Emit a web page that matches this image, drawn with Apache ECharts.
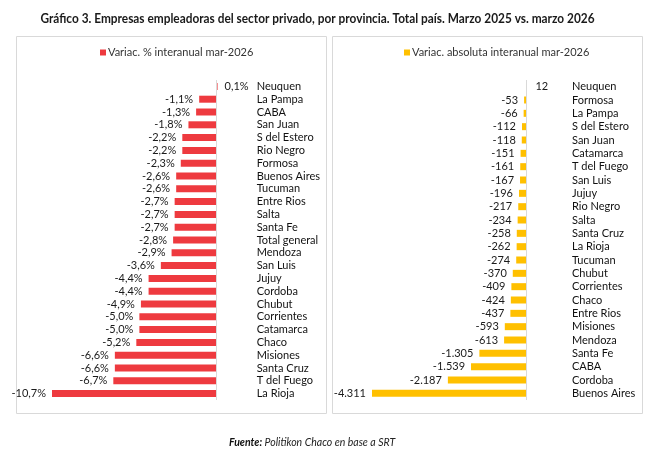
<!DOCTYPE html>
<html>
<head>
<meta charset="utf-8">
<script src="https://cdn.jsdelivr.net/npm/echarts@6/dist/echarts.min.js"></script>
<style>
  html, body { margin: 0; padding: 0; background: #fff; }
  #chart { width: 654px; height: 464px; }
</style>
</head>
<body>
<div id="chart"></div>
<script>
// variación % interanual
var pctProvincias = ['Neuquen', 'La Pampa', 'CABA', 'San Juan', 'S del Estero', 'Rio Negro', 'Formosa',
    'Buenos Aires', 'Tucuman', 'Entre Rios', 'Salta', 'Santa Fe', 'Total general', 'Mendoza', 'San Luis',
    'Jujuy', 'Cordoba', 'Chubut', 'Corrientes', 'Catamarca', 'Chaco', 'Misiones', 'Santa Cruz',
    'T del Fuego', 'La Rioja'];
var pctValores = [0.1, -1.1, -1.3, -1.8, -2.2, -2.2, -2.3, -2.6, -2.6, -2.7, -2.7, -2.7, -2.8, -2.9, -3.6,
    -4.4, -4.4, -4.9, -5.0, -5.0, -5.2, -6.6, -6.6, -6.7, -10.7];

// variación absoluta interanual
var absProvincias = ['Neuquen', 'Formosa', 'La Pampa', 'S del Estero', 'San Juan', 'Catamarca', 'T del Fuego',
    'San Luis', 'Jujuy', 'Rio Negro', 'Salta', 'Santa Cruz', 'La Rioja', 'Tucuman', 'Chubut', 'Corrientes',
    'Chaco', 'Entre Rios', 'Misiones', 'Mendoza', 'Santa Fe', 'CABA', 'Cordoba', 'Buenos Aires'];
var absValores = [12, -53, -66, -112, -118, -151, -161, -167, -196, -217, -234, -258, -262, -274, -370, -409,
    -424, -437, -593, -613, -1305, -1539, -2187, -4311];

var FONT = "Lato, 'Liberation Sans', sans-serif";
var ROJO = '#EE3A3F';
var AMARILLO = '#FFC000';
var TITULO = 'Gráfico 3. Empresas empleadoras del sector privado, por provincia. Total país. Marzo 2025 vs. marzo 2026';

function fmtPct(v) {
    return v.toFixed(1).replace('.', ',') + '%';
}
function fmtAbs(v) {
    var s = String(Math.abs(v)).replace(/\B(?=(\d{3})+(?!\d))/g, '.');
    return (v < 0 ? '-' : '') + s;
}

function barData(valores, fmt, distPos) {
    return valores.map(function(v) {
        return {
            value: v,
            label: {
                position: v < 0 ? 'left' : 'right',
                distance: v < 0 ? 6 : distPos,
                formatter: function() { return fmt(v); }
            }
        };
    });
}

function zeroLine() {
    return {
        silent: true,
        symbol: 'none',
        label: { show: false },
        lineStyle: { color: '#d9d9d9', type: 'solid', width: 1 },
        data: [{ xAxis: 0 }]
    };
}

// el título original usa una fuente condensada: se estrecha para ocupar el mismo ancho
var ctx = document.createElement('canvas').getContext('2d');
ctx.font = 'bold 13px ' + FONT;
var escalaTitulo = 554 / ctx.measureText(TITULO).width;

var chart = echarts.init(document.getElementById('chart'));

var option = {
    animation: false,
    textStyle: { fontFamily: FONT },
    graphic: [
        { type: 'text', x: 40.5, y: 12, scaleX: escalaTitulo,
          style: { text: TITULO, font: 'bold 13px ' + FONT, fill: '#1a1a1a' } },
        { type: 'rect', shape: { x: 16.5, y: 36.5, width: 310, height: 377 },
          style: { fill: 'none', stroke: '#d9d9d9', lineWidth: 1 } },
        { type: 'rect', shape: { x: 332.5, y: 36.5, width: 310, height: 377 },
          style: { fill: 'none', stroke: '#d9d9d9', lineWidth: 1 } },
        { type: 'text', x: 229, y: 437,
          style: {
              text: '{b|Fuente:} Politikon Chaco en base a SRT',
              font: 'italic 10.5px ' + FONT,
              fill: '#222',
              rich: { b: { fontWeight: 'bold', fontStyle: 'italic', fontSize: 10.5, fontFamily: FONT, fill: '#111' } }
          } }
    ],
    legend: [
        { data: ['Variac. % interanual mar-2026'], left: 100, top: 47, icon: 'rect',
          itemWidth: 6, itemHeight: 6, itemGap: 3, padding: 0,
          textStyle: { fontFamily: FONT, fontSize: 11, color: '#333', padding: [0, 0, 0, -3] } },
        { data: ['Variac. absoluta interanual mar-2026'], left: 404, top: 47, icon: 'rect',
          itemWidth: 6, itemHeight: 6, itemGap: 3, padding: 0,
          textStyle: { fontFamily: FONT, fontSize: 11, color: '#333', padding: [0, 0, 0, -3] } }
    ],
    grid: [
        { left: 52, top: 80, width: 194.7, height: 320 },
        { left: 372, top: 80, width: 190, height: 320 }
    ],
    xAxis: [
        { type: 'value', gridIndex: 0, min: -10.7, max: 2, show: false },
        { type: 'value', gridIndex: 1, min: -4311, max: 1008, show: false }
    ],
    yAxis: [
        { type: 'category', gridIndex: 0, data: pctProvincias, inverse: true, position: 'right',
          axisLine: { show: false }, axisTick: { show: false },
          axisLabel: { interval: 0, margin: 10, fontSize: 11, color: '#111', fontFamily: FONT } },
        { type: 'category', gridIndex: 1, data: absProvincias, inverse: true, position: 'right',
          axisLine: { show: false }, axisTick: { show: false },
          axisLabel: { interval: 0, margin: 10, fontSize: 11, color: '#111', fontFamily: FONT } }
    ],
    series: [
        { name: 'Variac. % interanual mar-2026', type: 'bar', xAxisIndex: 0, yAxisIndex: 0,
          data: barData(pctValores, fmtPct, 7), barWidth: 7,
          itemStyle: { color: ROJO },
          label: { show: true, fontSize: 11, color: '#1a1a1a', fontFamily: FONT },
          markLine: zeroLine() },
        { name: 'Variac. absoluta interanual mar-2026', type: 'bar', xAxisIndex: 1, yAxisIndex: 1,
          data: barData(absValores, fmtAbs, 9), barWidth: 7,
          itemStyle: { color: AMARILLO },
          label: { show: true, fontSize: 11, color: '#1a1a1a', fontFamily: FONT },
          markLine: zeroLine() }
    ]
};

chart.setOption(option);
</script>
</body>
</html>
